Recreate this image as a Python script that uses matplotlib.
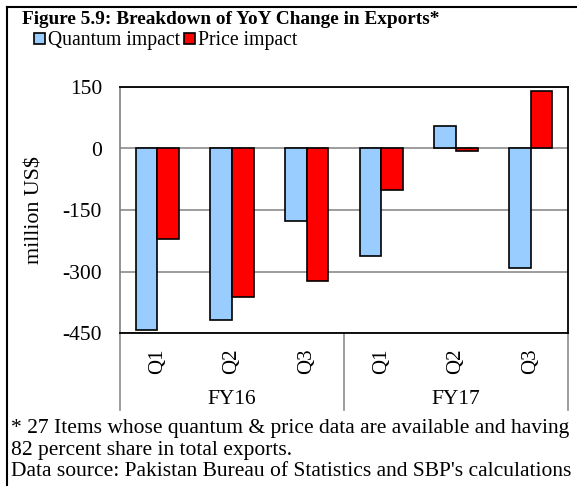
import matplotlib
matplotlib.use("Agg")
import matplotlib.pyplot as plt
from matplotlib.patches import Patch
from matplotlib.lines import Line2D
import matplotlib.transforms as mtransforms

plt.rcParams['font.family'] = ['Liberation Serif', 'DejaVu Serif']

quarters = ["Q1", "Q2", "Q3", "Q1", "Q2", "Q3"]
years = ["FY16", "FY17"]
quantum = [-443, -418, -178, -263, 56, -292]
price = [-221, -363, -324, -101, -5, 140]
yticks = [150, 0, -150, -300, -450]

W, H = 577, 486
fig = plt.figure(figsize=(W / 100, H / 100), dpi=100)

def fx(px):
    return px / W

def fy(py):
    return 1 - py / H

ax = fig.add_axes([fx(120), fy(333), fx(568) - fx(120), fy(87) - fy(333)])

x = list(range(len(quarters)))
bw = 0.288
ax.bar([i - bw / 2 for i in x], quantum, width=bw, color="#99CCFF",
       edgecolor="black", linewidth=1.2, zorder=3)
ax.bar([i + bw / 2 for i in x], price, width=bw, color="#FF0000",
       edgecolor="black", linewidth=1.2, zorder=3)

ax.set_xlim(-0.5, len(quarters) - 0.5)
ax.set_ylim(-450, 150)
ax.set_yticks(yticks)
ax.set_yticklabels([str(v) for v in yticks], fontsize=15.5)
ax.tick_params(axis='y', length=0, pad=13)
ax.set_xticks(x)
ax.set_xticklabels(quarters, rotation=90, fontsize=15)
ax.tick_params(axis='x', length=0, pad=11)
ax.grid(axis='y', color="#8c8c8c", linewidth=1.2, zorder=0)
ax.set_axisbelow(True)
for s in ['top', 'right', 'bottom']:
    ax.spines[s].set_color("black")
    ax.spines[s].set_linewidth(1.3)
ax.spines['left'].set_color("#808080")
ax.spines['left'].set_linewidth(1.2)

ax.set_ylabel("million US$", fontsize=15.8)
ax.yaxis.set_label_coords(-0.168, 0.5)

trans = mtransforms.blended_transform_factory(ax.transData, ax.transAxes)
yb = -(410 - 333) / (333 - 87)
for xs in [-0.5, 2.5, 5.5]:
    ax.add_line(Line2D([xs, xs], [0, yb], transform=trans, color="#8c8c8c",
                       linewidth=1.2, clip_on=False))
for j, yr in enumerate(years):
    ax.text(3 * j + 1, -(399 - 333) / (333 - 87), yr, transform=trans,
            ha='center', va='center', fontsize=15.5)

fig.text(fx(22), fy(19), "Figure 5.9: Breakdown of YoY Change in Exports*",
         fontsize=13.9, fontweight='bold', ha='left', va='center')

handles = [Patch(facecolor="#99CCFF", edgecolor="black", linewidth=1.2),
           Patch(facecolor="#FF0000", edgecolor="black", linewidth=1.2)]
fig.legend(handles, ["Quantum impact", "Price impact"], loc='center left',
           bbox_to_anchor=(fx(34), fy(41)), ncol=2, frameon=False,
           fontsize=14.2, handlelength=0.55, handleheight=0.55,
           handletextpad=0.15, columnspacing=0.2, borderpad=0, borderaxespad=0)

fig.text(fx(11), fy(428), "* 27 Items whose quantum & price data are available and having",
         fontsize=15.5, ha='left', va='center')
fig.text(fx(11), fy(450), "82 percent share in total exports.",
         fontsize=15.5, ha='left', va='center')
fig.text(fx(11), fy(471), "Data source: Pakistan Bureau of Statistics and SBP's calculations",
         fontsize=15.5, ha='left', va='center')

fig.add_artist(Line2D([fx(7), 1], [fy(7), fy(7)], color="black", linewidth=1.5))
fig.add_artist(Line2D([fx(7), fx(7)], [fy(7), 0], color="black", linewidth=1.5))

fig.savefig("out.png", dpi=100)
